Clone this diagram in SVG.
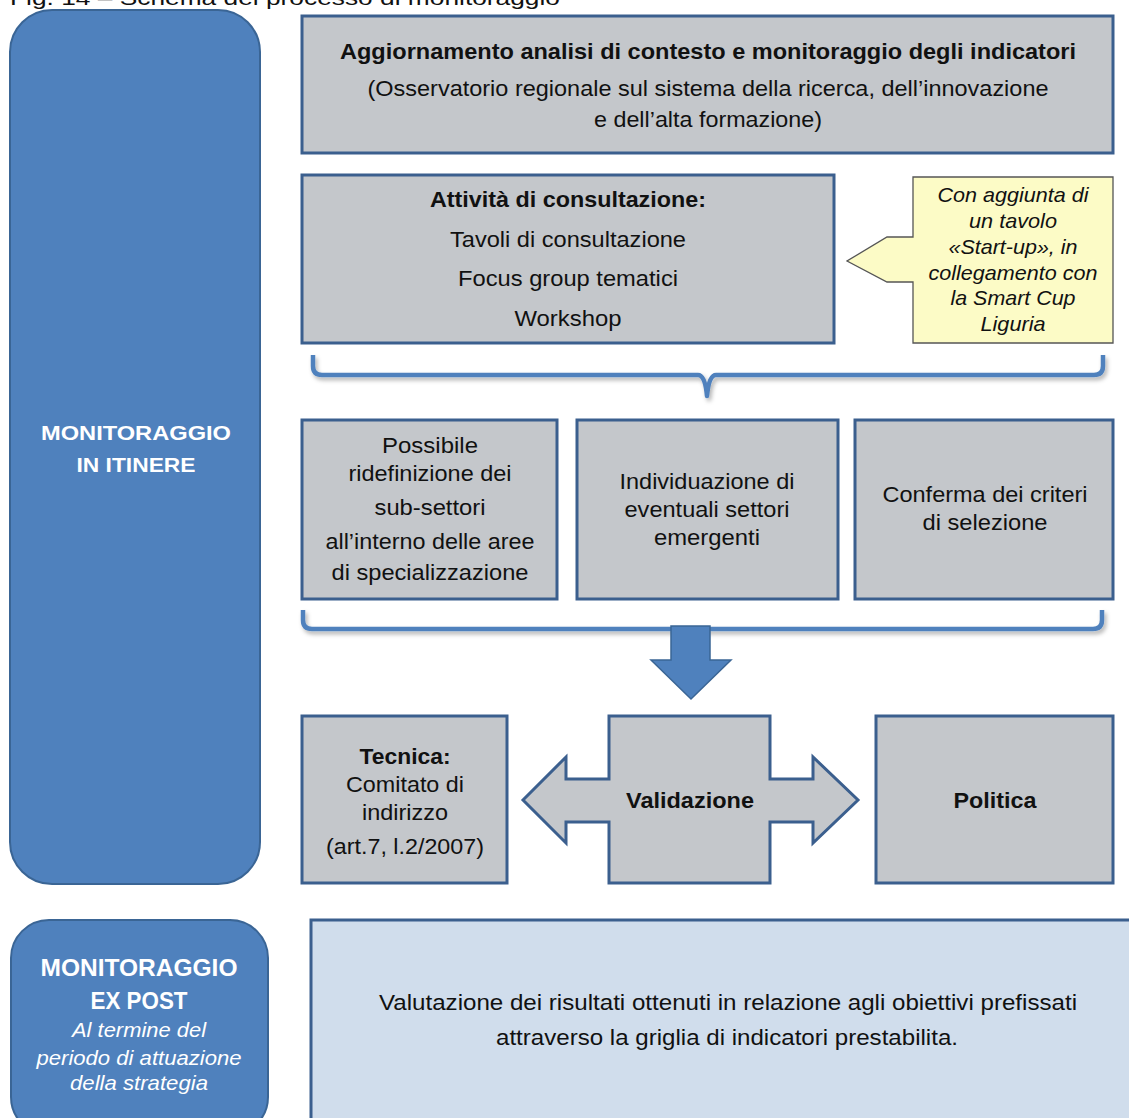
<svg xmlns="http://www.w3.org/2000/svg" width="1129" height="1118" viewBox="0 0 1129 1118">
<defs>
<filter id="sh" x="-5%" y="-50%" width="110%" height="200%">
<feDropShadow dx="2" dy="3" stdDeviation="2" flood-color="#000" flood-opacity="0.3"/>
</filter>
</defs>
<style>
text{font-family:"Liberation Sans",Arial,sans-serif;fill:#111;text-anchor:middle}
.t{font-size:22px}
.b{font-weight:bold}
.i{font-style:italic;font-size:21px}
.w{fill:#fff;font-weight:bold}
.wi{fill:#fff;font-style:italic;font-size:21px}
.box{fill:#C4C7CB;stroke:#3B5F8E;stroke-width:3}
.pill{fill:#4F81BD;stroke:#3A6595;stroke-width:2}
.brace{fill:none;stroke:#4F81BD;stroke-width:4.5;stroke-linejoin:round}
</style>
<rect width="1129" height="1118" fill="#fff"/>
<text x="285" y="5" style="font-size:21px" textLength="550" lengthAdjust="spacingAndGlyphs">Fig. 14 – Schema del processo di monitoraggio</text>

<g id="monitoraggio-in-itinere">
<rect class="pill" x="10" y="10" width="250" height="874" rx="42"/>
<text class="w" x="136" y="440" style="font-size:21px" textLength="190" lengthAdjust="spacingAndGlyphs">MONITORAGGIO</text>
<text class="w" x="136" y="472" style="font-size:21px" textLength="119" lengthAdjust="spacingAndGlyphs">IN ITINERE</text>
</g>

<g id="aggiornamento">
<rect class="box" x="302" y="16" width="811" height="137"/>
<text class="t b" x="708" y="59" textLength="736" lengthAdjust="spacingAndGlyphs">Aggiornamento  analisi di contesto e monitoraggio  degli indicatori</text>
<text class="t" x="708" y="96" textLength="681" lengthAdjust="spacingAndGlyphs">(Osservatorio regionale sul sistema della ricerca, dell’innovazione</text>
<text class="t" x="708" y="127" textLength="228" lengthAdjust="spacingAndGlyphs">e dell’alta formazione)</text>
</g>

<g id="consultazione">
<rect class="box" x="302" y="175" width="532" height="168"/>
<text class="t b" x="568" y="207" textLength="276" lengthAdjust="spacingAndGlyphs">Attività di consultazione:</text>
<text class="t" x="568" y="247" textLength="236" lengthAdjust="spacingAndGlyphs">Tavoli di consultazione</text>
<text class="t" x="568" y="286" textLength="220" lengthAdjust="spacingAndGlyphs">Focus group tematici</text>
<text class="t" x="568" y="326" textLength="107" lengthAdjust="spacingAndGlyphs">Workshop</text>
</g>

<g id="callout-startup">
<path d="M913,177 H1113 V343 H913 V282 H887 L847,261 L887,237 H913 Z" fill="#FCFBC6" stroke="#555" stroke-width="1.3"/>
<text class="i" x="1013" y="202" textLength="151" lengthAdjust="spacingAndGlyphs">Con aggiunta di</text>
<text class="i" x="1013" y="228" textLength="88" lengthAdjust="spacingAndGlyphs">un tavolo</text>
<text class="i" x="1013" y="254" textLength="129" lengthAdjust="spacingAndGlyphs">«Start-up», in</text>
<text class="i" x="1013" y="280" textLength="169" lengthAdjust="spacingAndGlyphs">collegamento con</text>
<text class="i" x="1013" y="305" textLength="125" lengthAdjust="spacingAndGlyphs">la Smart Cup</text>
<text class="i" x="1013" y="331" textLength="65" lengthAdjust="spacingAndGlyphs">Liguria</text>
</g>

<g id="ridefinizione">
<rect class="box" x="302" y="420" width="255" height="179"/>
<text class="t" x="430" y="453" textLength="96" lengthAdjust="spacingAndGlyphs">Possibile</text>
<text class="t" x="430" y="481" textLength="163" lengthAdjust="spacingAndGlyphs">ridefinizione dei</text>
<text class="t" x="430" y="515" textLength="111" lengthAdjust="spacingAndGlyphs">sub-settori</text>
<text class="t" x="430" y="549" textLength="209" lengthAdjust="spacingAndGlyphs">all’interno delle aree</text>
<text class="t" x="430" y="580" textLength="197" lengthAdjust="spacingAndGlyphs">di specializzazione</text>
</g>

<g id="individuazione">
<rect class="box" x="577" y="420" width="261" height="179"/>
<text class="t" x="707" y="489" textLength="175" lengthAdjust="spacingAndGlyphs">Individuazione di</text>
<text class="t" x="707" y="517" textLength="165" lengthAdjust="spacingAndGlyphs">eventuali settori</text>
<text class="t" x="707" y="545" textLength="106" lengthAdjust="spacingAndGlyphs">emergenti</text>
</g>

<g id="conferma">
<rect class="box" x="855" y="420" width="258" height="179"/>
<text class="t" x="985" y="502" textLength="205" lengthAdjust="spacingAndGlyphs">Conferma dei criteri</text>
<text class="t" x="985" y="530" textLength="125" lengthAdjust="spacingAndGlyphs">di selezione</text>
</g>

<g id="connectors">
<path class="brace" filter="url(#sh)" d="M313,355 V366 Q313,375 322,375 H698 Q705,375 707,396 Q709,375 716,375 H1094 Q1103,375 1103,366 V355"/>
<path class="brace" filter="url(#sh)" d="M303,610 V620 Q303,629 312,629 H1093 Q1102,629 1102,620 V610"/>
<path d="M671,626 H710 V660 H731 L691,699 L651,660 H671 Z" fill="#4F81BD" stroke="#3A6595" stroke-width="1.5"/>
</g>

<g id="tecnica">
<rect class="box" x="302" y="716" width="205" height="167"/>
<text class="t b" x="405" y="764" textLength="91" lengthAdjust="spacingAndGlyphs">Tecnica:</text>
<text class="t" x="405" y="792" textLength="118" lengthAdjust="spacingAndGlyphs">Comitato di</text>
<text class="t" x="405" y="820" textLength="86" lengthAdjust="spacingAndGlyphs">indirizzo</text>
<text class="t" x="405" y="854" textLength="158" lengthAdjust="spacingAndGlyphs">(art.7, l.2/2007)</text>
</g>

<g id="validazione">
<path class="box" d="M609,716 H770 V779 H813 V757 L858,800 L813,843 V822 H770 V883 H609 V822 H566 V843 L523,800 L566,757 V779 H609 Z"/>
<text class="t b" x="690" y="808" textLength="128" lengthAdjust="spacingAndGlyphs">Validazione</text>
</g>

<g id="politica">
<rect class="box" x="876" y="716" width="237" height="167"/>
<text class="t b" x="995" y="808" textLength="83" lengthAdjust="spacingAndGlyphs">Politica</text>
</g>

<g id="monitoraggio-ex-post">
<rect class="pill" x="11" y="920" width="257" height="215" rx="38"/>
<text class="w" x="139" y="976" style="font-size:24px" textLength="197" lengthAdjust="spacingAndGlyphs">MONITORAGGIO</text>
<text class="w" x="139" y="1009" style="font-size:24px" textLength="97" lengthAdjust="spacingAndGlyphs">EX POST</text>
<text class="wi" x="139" y="1037" textLength="134" lengthAdjust="spacingAndGlyphs">Al termine del</text>
<text class="wi" x="139" y="1065" textLength="205" lengthAdjust="spacingAndGlyphs">periodo di attuazione</text>
<text class="wi" x="139" y="1090" textLength="138" lengthAdjust="spacingAndGlyphs">della strategia</text>
</g>

<g id="valutazione">
<rect x="311" y="920" width="830" height="215" fill="#D0DDEC" stroke="#3B5F8E" stroke-width="3"/>
<text class="t" x="728" y="1010" textLength="698" lengthAdjust="spacingAndGlyphs">Valutazione dei risultati ottenuti in relazione agli obiettivi prefissati</text>
<text class="t" x="727" y="1045" textLength="462" lengthAdjust="spacingAndGlyphs">attraverso  la griglia di indicatori prestabilita.</text>
</g>
</svg>
